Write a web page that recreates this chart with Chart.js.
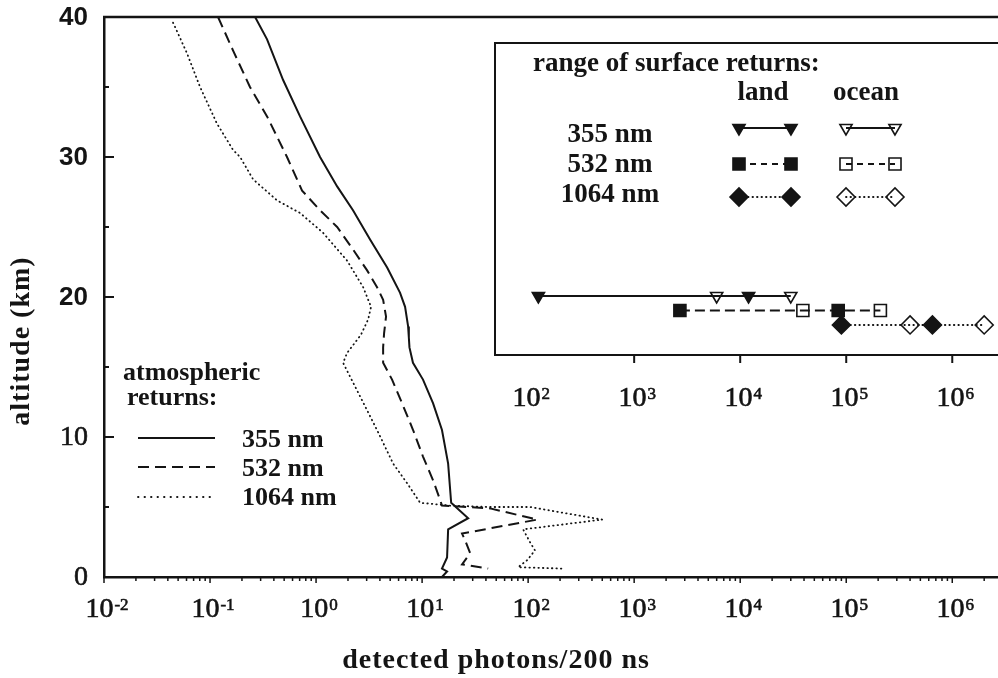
<!DOCTYPE html>
<html>
<head>
<meta charset="utf-8">
<script src="https://cdn.jsdelivr.net/npm/chart.js@4.4.0/dist/chart.umd.min.js"></script>
<style>
  html, body { margin: 0; padding: 0; background: #fff; }
  #wrap { position: relative; width: 998px; height: 678px; overflow: hidden; }
</style>
</head>
<body>
<div id="wrap"><canvas id="profileChart"></canvas></div>
<script>
// atmospheric returns: altitude (km) against detected photons per 200 ns
var alt355 = [40, 38.4, 35.5, 32.9, 30, 27.9, 26.2, 24.1, 22.1, 20.3, 19.3, 17.9, 17.1, 16.4, 15.3, 14.1, 12.4, 10.5, 8.1, 5.3, 4.2, 3.4, 1.4, 0.6, 0.4, 0];
var photons355 = [0.266, 0.345, 0.489, 0.706, 1.09, 1.58, 2.23, 3.23, 4.68, 6.2, 6.91, 7.38, 7.5, 7.6, 8.2, 10.2, 12.7, 15.4, 17.6, 18.8, 27.2, 17.6, 17.2, 15.4, 17.2, 15.4];

var alt532 = [40, 37.6, 35, 32.9, 30, 27.6, 26.2, 25, 23.4, 21.9, 20.7, 19.8, 18.6, 17.4, 16.4, 15.3, 14.1, 12.4, 10.5, 8.6, 6.9, 5.5, 5.1, 4.9, 4.1, 3.1, 2.6, 1.7, 0.9, 0.6];
var photons532 = [0.119, 0.165, 0.238, 0.345, 0.532, 0.738, 1.09, 1.58, 2.23, 3.03, 3.76, 4.29, 4.57, 4.38, 4.29, 4.29, 5.21, 6.48, 8.22, 10.2, 12.7, 14.8, 15.4, 43.8, 122, 23.8, 25.5, 28.4, 23.8, 42];

var alt1064 = [39.6, 37.4, 35, 32.4, 30.5, 30, 28.4, 26.9, 26, 24.6, 22.6, 20.7, 19.3, 18.4, 17.3, 16, 15.3, 12.9, 10.5, 8.1, 6.7, 5.3, 5.1, 5.0, 5.0, 4.1, 3.4, 2.5, 1.9, 1.2, 0.7, 0.6, 0.5];
var photons1064 = [0.0448, 0.0607, 0.0805, 0.116, 0.165, 0.192, 0.255, 0.429, 0.706, 1.16, 1.96, 2.78, 3.30, 3.10, 2.65, 1.96, 1.80, 2.60, 3.76, 5.33, 7.22, 9.58, 18.4, 43.8, 104, 499, 89.7, 104, 116, 97.9, 80.5, 214, 214];

// range of surface returns (photons/200 ns), land and ocean, per wavelength
var wavelengths = ['355 nm', '532 nm', '1064 nm'];
var landRange = [[125, 1.2e4], [2.7e3, 8.4e4], [9.0e4, 6.5e5]];
var oceanRange = [[6.0e3, 3.0e4], [3.9e4, 2.1e5], [4.0e5, 2.0e6]];

// axis ticks
var altMajor = [0, 10, 20, 30, 40];
var altMinor = [5, 15, 25, 35];
var photonDecades = [-2, -1, 0, 1, 2, 3, 4, 5, 6];
var insetDecades = [2, 3, 4, 5, 6];
var insetTickDecades = [3, 4, 5, 6];

var INK = '#141414';
var SERIF = '"Liberation Serif", "Times New Roman", serif';
var SANS = '"Liberation Sans", Arial, sans-serif';

var lineStyles = [
  { dash: [], width: 2 },
  { dash: [11, 6], width: 2 },
  { dash: [0.5, 4], width: 1.8 }
];
var markerStyles = [
  { pointStyle: 'triangle', rotation: 180, radius: 7 },
  { pointStyle: 'rect', rotation: 0, radius: 8.5 },
  { pointStyle: 'rectRot', rotation: 0, radius: 9 }
];

function profile(alts, photons) {
  return alts.map(function (a, i) { return { x: photons[i], y: a }; });
}

function surfaceRow(row) {
  var pts = [];
  landRange[row].forEach(function (v) { pts.push({ x: v, y: row, land: true }); });
  oceanRange[row].forEach(function (v) { pts.push({ x: v, y: row, land: false }); });
  return pts.sort(function (p, q) { return p.x - q.x; });
}

var datasets = [
  [alt355, photons355], [alt532, photons532], [alt1064, photons1064]
].map(function (p, i) {
  return {
    label: wavelengths[i],
    data: profile(p[0], p[1]),
    showLine: true,
    borderColor: INK,
    borderWidth: lineStyles[i].width,
    borderDash: lineStyles[i].dash,
    borderCapStyle: i === 2 ? 'round' : 'butt',
    pointRadius: 0,
    tension: 0,
    yAxisID: 'y'
  };
});

wavelengths.forEach(function (w, i) {
  datasets.push({
    label: 'surface ' + w,
    data: surfaceRow(i),
    showLine: true,
    borderColor: INK,
    borderWidth: 1.8,
    borderDash: i === 0 ? [] : (i === 1 ? [10, 5] : [0.5, 4]),
    borderCapStyle: i === 2 ? 'round' : 'butt',
    pointStyle: markerStyles[i].pointStyle,
    rotation: markerStyles[i].rotation,
    pointRadius: markerStyles[i].radius,
    pointBorderWidth: 1.6,
    pointBorderColor: INK,
    pointBackgroundColor: function (c) { return c.raw && c.raw.land ? INK : 'rgba(0,0,0,0)'; },
    yAxisID: 'yRow'
  });
});

function heavyText(ctx, text, x, y) {
  // scanned print is heavier than the screen face, so thicken a little
  ctx.fillText(text, x, y);
  ctx.lineWidth = 0.6;
  ctx.strokeText(text, x, y);
}

function drawPow(ctx, cx, baseline, exp, size) {
  // "10" followed by a raised exponent, the pair centred on cx
  ctx.font = size + 'px ' + SERIF;
  var bw = ctx.measureText('10').width;
  var es = Math.round(size * 0.6);
  ctx.font = es + 'px ' + SERIF;
  var ew = ctx.measureText(exp).width;
  var left = cx - (bw + 1 + ew) / 2;
  ctx.textAlign = 'left';
  ctx.textBaseline = 'alphabetic';
  ctx.font = size + 'px ' + SERIF;
  heavyText(ctx, '10', left, baseline);
  ctx.font = es + 'px ' + SERIF;
  heavyText(ctx, exp, left + bw + 1, baseline - size * 0.26);
}

function sample(ctx, style, filled, x, y) {
  ctx.fillStyle = filled ? INK : 'rgba(0,0,0,0)';
  ctx.strokeStyle = INK;
  ctx.lineWidth = 1.6;
  Chart.helpers.drawPoint(ctx, {
    pointStyle: style.pointStyle, rotation: style.rotation,
    radius: style.radius, borderWidth: 1.6
  }, x, y);
}

var decor = {
  id: 'decor',
  beforeDatasetsDraw: function (chart) {
    var ctx = chart.ctx, a = chart.chartArea;
    ctx.save();
    ctx.fillStyle = '#fff';
    ctx.fillRect(a.left + 391, a.top + 26, a.right - a.left, 312);
    ctx.strokeStyle = INK;
    ctx.lineWidth = 2;
    ctx.strokeRect(a.left + 391, a.top + 26, a.right - a.left, 312);
    ctx.restore();
  },
  afterDraw: function (chart) {
    var ctx = chart.ctx, a = chart.chartArea;
    var xs = chart.scales.x, ys = chart.scales.y;
    ctx.save();
    ctx.strokeStyle = INK;
    ctx.fillStyle = INK;

    // frame top
    ctx.lineWidth = 2.5;
    ctx.beginPath();
    ctx.moveTo(a.left - 1, a.top);
    ctx.lineTo(a.right + 2, a.top);
    ctx.stroke();

    // altitude ticks point inward
    ctx.lineWidth = 2;
    altMajor.concat(altMinor).forEach(function (v) {
      var y = ys.getPixelForValue(v);
      var len = altMajor.indexOf(v) >= 0 ? 10 : 5;
      ctx.beginPath();
      ctx.moveTo(a.left, y);
      ctx.lineTo(a.left + len, y);
      ctx.stroke();
    });

    // photon ticks hang below the axis
    ctx.lineWidth = 1.5;
    photonDecades.forEach(function (k) {
      for (var m = 1; m <= 9; m++) {
        var v = m * Math.pow(10, k);
        if (v > xs.max) break;
        var x = xs.getPixelForValue(v);
        ctx.beginPath();
        ctx.moveTo(x, a.bottom);
        ctx.lineTo(x, a.bottom + (m === 1 ? 6 : 4));
        ctx.stroke();
      }
    });

    // altitude labels
    ctx.textAlign = 'right';
    ctx.textBaseline = 'middle';
    altMajor.forEach(function (v) {
      var y = ys.getPixelForValue(v);
      if (v >= 20) {
        ctx.font = 'bold 26px ' + SANS;
        ctx.fillText(String(v), a.left - 16, y + 1);
      } else {
        ctx.font = '28px ' + SERIF;
        heavyText(ctx, String(v), a.left - 16, y + 1);
      }
    });

    // photon labels
    photonDecades.forEach(function (k) {
      drawPow(ctx, xs.getPixelForValue(Math.pow(10, k)) + 3, a.bottom + 40, String(k), 28);
    });

    // axis titles
    ctx.font = 'bold 28px ' + SERIF;
    ctx.letterSpacing = '1px';
    ctx.textAlign = 'center';
    ctx.textBaseline = 'alphabetic';
    ctx.fillText('detected photons/200 ns', a.left + 392, a.bottom + 91);
    ctx.save();
    ctx.translate(22, 341);
    ctx.rotate(-Math.PI / 2);
    ctx.textBaseline = 'middle';
    ctx.fillText('altitude (km)', 0, 0);
    ctx.restore();
    ctx.letterSpacing = '0px';

    // atmospheric legend
    ctx.textAlign = 'left';
    ctx.font = 'bold 26px ' + SERIF;
    ctx.fillText('atmospheric', a.left + 19, 380);
    ctx.fillText('returns:', a.left + 23, 405);
    var legendY = [438, 467, 497];
    var textY = [447, 476, 505];
    var legendDots = [[], [11, 6], [0.5, 6]];
    wavelengths.forEach(function (w, i) {
      ctx.lineWidth = lineStyles[i].width;
      ctx.setLineDash(legendDots[i]);
      ctx.lineCap = i === 2 ? 'round' : 'butt';
      ctx.beginPath();
      ctx.moveTo(a.left + 34, legendY[i]);
      ctx.lineTo(a.left + 111, legendY[i]);
      ctx.stroke();
      ctx.setLineDash([]);
      ctx.lineCap = 'butt';
      ctx.fillText(w, a.left + 138, textY[i]);
    });

    // inset axis
    var bx = a.left + 391, by = a.top + 26, bb = by + 312;
    ctx.lineWidth = 2;
    insetTickDecades.forEach(function (k) {
      var x = xs.getPixelForValue(Math.pow(10, k));
      ctx.beginPath();
      ctx.moveTo(x, bb);
      ctx.lineTo(x, bb + 8);
      ctx.stroke();
    });
    insetDecades.forEach(function (k) {
      drawPow(ctx, xs.getPixelForValue(Math.pow(10, k)) + 3, bb + 51, String(k), 28);
    });

    // inset key
    ctx.font = 'bold 27px ' + SERIF;
    ctx.textAlign = 'left';
    ctx.fillText('range of surface returns:', bx + 38, by + 28);
    ctx.textAlign = 'center';
    ctx.fillText('land', bx + 268, by + 57);
    ctx.fillText('ocean', bx + 371, by + 57);
    var keyY = [by + 85, by + 121, by + 154];
    var keyText = [by + 99, by + 129, by + 159];
    var keyDash = [[], [6, 5], [0.5, 4]];
    wavelengths.forEach(function (w, i) {
      ctx.fillStyle = INK;
      ctx.font = 'bold 27px ' + SERIF;
      ctx.textAlign = 'center';
      ctx.fillText(w, bx + 115, keyText[i]);
      [[244, 296, true], [351, 400, false]].forEach(function (pair) {
        ctx.lineWidth = 1.8;
        ctx.setLineDash(keyDash[i]);
        ctx.lineCap = i === 2 ? 'round' : 'butt';
        ctx.beginPath();
        ctx.moveTo(bx + pair[0], keyY[i]);
        ctx.lineTo(bx + pair[1], keyY[i]);
        ctx.stroke();
        ctx.setLineDash([]);
        ctx.lineCap = 'butt';
        sample(ctx, markerStyles[i], pair[2], bx + pair[0], keyY[i]);
        sample(ctx, markerStyles[i], pair[2], bx + pair[1], keyY[i]);
      });
    });
    ctx.restore();
  }
};

var chart = new Chart(document.getElementById('profileChart').getContext('2d'), {
  type: 'scatter',
  data: { datasets: datasets },
  options: {
    responsive: true,
    maintainAspectRatio: false,
    animation: false,
    devicePixelRatio: 1,
    layout: { autoPadding: false, padding: { top: 17, right: 0, left: 0, bottom: 0 } },
    plugins: { legend: { display: false }, tooltip: { enabled: false } },
    scales: {
      x: {
        type: 'logarithmic',
        min: 0.01,
        max: 2.7e6,
        grid: { display: false },
        ticks: { display: false },
        border: { display: true, color: INK, width: 2.5 },
        afterFit: function (s) { s.height = 101; }
      },
      y: {
        type: 'linear',
        min: 0,
        max: 40,
        grid: { display: false },
        ticks: { display: false },
        border: { display: true, color: INK, width: 2.5 },
        afterFit: function (s) { s.width = 104; }
      },
      yRow: {
        axis: 'y',
        type: 'linear',
        display: false,
        reverse: true,
        min: -19.24,
        max: 19.38
      }
    }
  },
  plugins: [decor]
});
</script>
</body>
</html>
